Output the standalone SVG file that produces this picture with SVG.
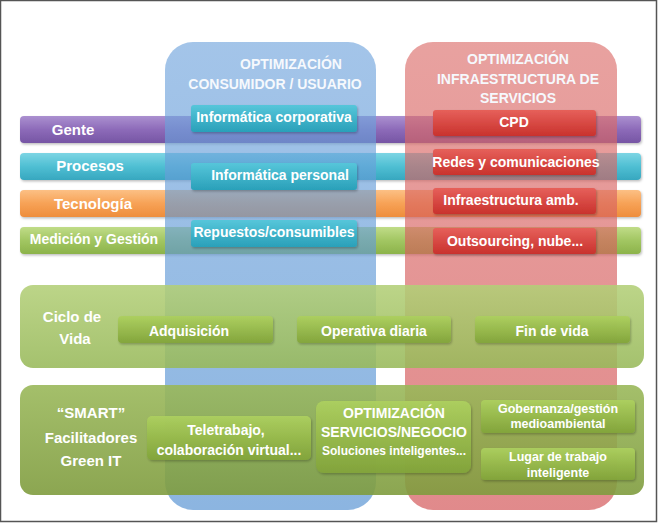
<svg xmlns="http://www.w3.org/2000/svg" width="658" height="523" viewBox="0 0 658 523">
<defs>
<linearGradient id="gPur" x1="0" y1="0" x2="0" y2="1"><stop offset="0" stop-color="#ab90d0"/><stop offset="0.5" stop-color="#8d6bb9"/><stop offset="1" stop-color="#7655a4"/></linearGradient>
<linearGradient id="gCya" x1="0" y1="0" x2="0" y2="1"><stop offset="0" stop-color="#7dd5e4"/><stop offset="0.5" stop-color="#4fbfd3"/><stop offset="1" stop-color="#37a7bf"/></linearGradient>
<linearGradient id="gOra" x1="0" y1="0" x2="0" y2="1"><stop offset="0" stop-color="#fcc085"/><stop offset="0.5" stop-color="#f7a256"/><stop offset="1" stop-color="#ee8d3c"/></linearGradient>
<linearGradient id="gGrn" x1="0" y1="0" x2="0" y2="1"><stop offset="0" stop-color="#c0dc88"/><stop offset="0.5" stop-color="#a2c662"/><stop offset="1" stop-color="#8cb34a"/></linearGradient>
<linearGradient id="gTeal" x1="0" y1="0" x2="0" y2="1"><stop offset="0" stop-color="#56c6da"/><stop offset="1" stop-color="#2aa0b9"/></linearGradient>
<linearGradient id="gRed" x1="0" y1="0" x2="0" y2="1"><stop offset="0" stop-color="#e6605a"/><stop offset="1" stop-color="#c9322d"/></linearGradient>
<linearGradient id="gBlueCol" x1="0" y1="0" x2="0" y2="1"><stop offset="0" stop-color="#72a5dd"/><stop offset="1" stop-color="#4e8dd0"/></linearGradient>
<linearGradient id="gRedCol" x1="0" y1="0" x2="0" y2="1"><stop offset="0" stop-color="#dc6f6c"/><stop offset="1" stop-color="#d04b4d"/></linearGradient>
<linearGradient id="gLife" x1="0" y1="0" x2="0" y2="1"><stop offset="0" stop-color="#b3cf78"/><stop offset="1" stop-color="#98b95a"/></linearGradient>
<linearGradient id="gSmart" x1="0" y1="0" x2="0" y2="1"><stop offset="0" stop-color="#9ab85a"/><stop offset="1" stop-color="#7f9c3e"/></linearGradient>
<linearGradient id="gInner" x1="0" y1="0" x2="0" y2="1"><stop offset="0" stop-color="#add05f"/><stop offset="1" stop-color="#82a43a"/></linearGradient>
<filter id="sh" x="-5%" y="-20%" width="110%" height="150%"><feDropShadow dx="1" dy="1.5" stdDeviation="1" flood-color="#000" flood-opacity="0.25"/></filter>
</defs>
<style>
.t{font-family:"Liberation Sans",Arial,sans-serif;font-weight:bold;fill:#ffffff;text-anchor:middle}
.h{font-size:14px;fill:#f6f9fd}
.b{font-size:15px}
.m{font-size:14px}
.s{font-size:12.5px}
.xs{font-size:12px}
</style>
<rect x="0" y="0" width="658" height="523" fill="#ffffff"/>
<rect x="0.5" y="0.5" width="656" height="521" fill="none" stroke="#555555" stroke-width="1.5"/>

<g id="bar-gente"><rect x="20" y="116" width="621" height="27" rx="4" fill="url(#gPur)" filter="url(#sh)"/><text class="t b" x="73" y="135">Gente</text></g>
<g id="bar-procesos"><rect x="20" y="153" width="621" height="27" rx="4" fill="url(#gCya)" filter="url(#sh)"/><text class="t b" x="90" y="171">Procesos</text></g>
<g id="bar-tecnologia"><rect x="20" y="190" width="621" height="27" rx="4" fill="url(#gOra)" filter="url(#sh)"/><text class="t b" x="93" y="209">Tecnología</text></g>
<g id="bar-medicion"><rect x="20" y="227" width="621" height="27" rx="4" fill="url(#gGrn)" filter="url(#sh)"/><text class="t m" x="94" y="244">Medición y Gestión</text></g>

<g id="col-consumidor">
<rect x="165" y="42" width="211" height="468" rx="28" fill="url(#gBlueCol)" opacity="0.65"/>
<text class="t h" x="291" y="69">OPTIMIZACIÓN</text>
<text class="t h" x="275" y="89">CONSUMIDOR / USUARIO</text>
</g>
<g id="col-infraestructura">
<rect x="405" y="42" width="212" height="468" rx="28" fill="url(#gRedCol)" opacity="0.65"/>
<text class="t h" x="518" y="64">OPTIMIZACIÓN</text>
<text class="t h" x="518" y="84">INFRAESTRUCTURA DE</text>
<text class="t h" x="518" y="103">SERVICIOS</text>
</g>

<g id="informatica-corporativa"><rect x="191" y="105" width="166" height="27" rx="3" fill="url(#gTeal)" filter="url(#sh)"/><text class="t m" x="274" y="122">Informática corporativa</text></g>
<g id="informatica-personal"><rect x="191" y="163" width="166" height="27" rx="3" fill="url(#gTeal)" filter="url(#sh)"/><text class="t m" x="280" y="180">Informática personal</text></g>
<g id="repuestos"><rect x="191" y="220" width="166" height="27" rx="3" fill="url(#gTeal)" filter="url(#sh)"/><text class="t m" x="274" y="237">Repuestos/consumibles</text></g>

<g id="cpd"><rect x="433" y="110" width="163" height="26" rx="3" fill="url(#gRed)" filter="url(#sh)"/><text class="t m" x="514" y="127">CPD</text></g>
<g id="redes"><rect x="433" y="149" width="163" height="26" rx="3" fill="url(#gRed)" filter="url(#sh)"/><text class="t m" x="516" y="167">Redes y comunicaciones</text></g>
<g id="infra-amb"><rect x="433" y="188" width="163" height="26" rx="3" fill="url(#gRed)" filter="url(#sh)"/><text class="t m" x="511" y="205">Infraestructura amb.</text></g>
<g id="outsourcing"><rect x="433" y="228" width="163" height="26" rx="3" fill="url(#gRed)" filter="url(#sh)"/><text class="t m" x="515" y="246">Outsourcing, nube...</text></g>

<g id="ciclo-de-vida">
<rect x="20" y="285" width="624" height="83" rx="13" fill="url(#gLife)" opacity="0.88"/>
<text class="t b" x="72" y="322">Ciclo de</text>
<text class="t b" x="75" y="344">Vida</text>
</g>
<g id="adquisicion"><rect x="118" y="316" width="155" height="27" rx="4" fill="url(#gInner)" opacity="0.95" filter="url(#sh)"/><text class="t m" x="189" y="336">Adquisición</text></g>
<g id="operativa"><rect x="297" y="316" width="154" height="27" rx="4" fill="url(#gInner)" opacity="0.95" filter="url(#sh)"/><text class="t m" x="374" y="336">Operativa diaria</text></g>
<g id="fin-de-vida"><rect x="475" y="316" width="155" height="27" rx="4" fill="url(#gInner)" opacity="0.95" filter="url(#sh)"/><text class="t m" x="552" y="336">Fin de vida</text></g>

<g id="smart">
<rect x="20" y="385" width="624" height="110" rx="13" fill="url(#gSmart)" opacity="0.9"/>
<text class="t b" x="91" y="418">“SMART”</text>
<text class="t b" x="91" y="443">Facilitadores</text>
<text class="t b" x="91" y="466">Green IT</text>
</g>
<g id="teletrabajo"><rect x="147" y="416" width="164" height="44" rx="5" fill="url(#gInner)" opacity="0.95" filter="url(#sh)"/><text class="t m" x="226" y="435">Teletrabajo,</text><text class="t m" x="229" y="455">colaboración virtual...</text></g>
<g id="optimizacion-servicios"><rect x="316" y="401" width="155" height="72" rx="8" fill="url(#gInner)" opacity="0.95" filter="url(#sh)"/><text class="t m" x="394" y="418">OPTIMIZACIÓN</text><text class="t m" x="394" y="437">SERVICIOS/NEGOCIO</text><text class="t xs" x="394" y="455">Soluciones inteligentes...</text></g>
<g id="gobernanza"><rect x="481" y="400" width="154" height="33" rx="4" fill="url(#gInner)" opacity="0.95" filter="url(#sh)"/><text class="t s" x="558" y="413">Gobernanza/gestión</text><text class="t s" x="558" y="428">medioambiental</text></g>
<g id="lugar-trabajo"><rect x="481" y="448" width="154" height="32" rx="4" fill="url(#gInner)" opacity="0.95" filter="url(#sh)"/><text class="t s" x="558" y="461">Lugar de trabajo</text><text class="t s" x="558" y="477">inteligente</text></g>
</svg>
